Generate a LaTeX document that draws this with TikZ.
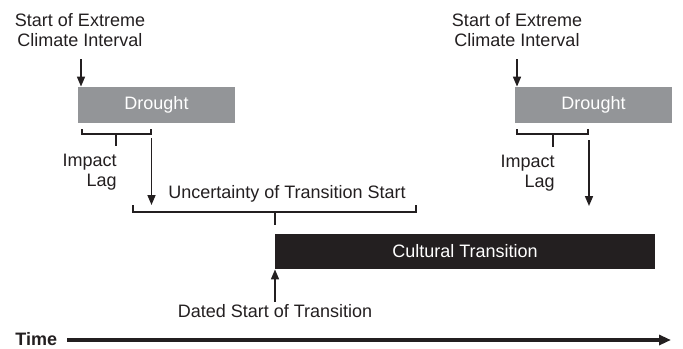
\documentclass[tikz,border=0pt]{standalone}
\usepackage{fontspec}
\setmainfont{Liberation Sans}
\usetikzlibrary{arrows.meta}
\definecolor{droughtgray}{RGB}{147,149,152}
\definecolor{culturalblack}{RGB}{35,31,32}
\begin{document}
\begin{tikzpicture}
	[x=0.5pt,y=-0.5pt,font=\fontsize{9}{10}\selectfont,culturalblack,
	label/.style={inner sep=0pt,align=center},
	box/.style={fill=droughtgray,text=white,inner sep=0pt,minimum width=78.5pt,minimum height=18pt},
	bracket/.style={line width=0.8pt,line join=miter},
	>={Triangle[length=5pt,width=4pt]}]
	\useasboundingbox (0,0) rectangle (683,348);
	% climate intervals
	\node[label,anchor=north,name=start1]at(80,13){Start of Extreme\\Climate Interval};
	\node[label,anchor=north,name=start2]at(517,13){Start of Extreme\\Climate Interval};
	\node[box,name=drought1]at(156.5,105){Drought};
	\node[box,name=drought2]at(593.5,105){Drought};
	\coordinate (s1) at (81,59);
	\coordinate (s2) at (517,59);
	\draw[->,line width=0.8pt](s1) -- (s1 |- drought1.north);
	\draw[->,line width=0.8pt](s2) -- (s2 |- drought2.north);
	% impact lags
	\draw[bracket](82,129) -- (82,134) -- (151,134) -- (151,129);
	\draw[bracket](116,134) -- (116,146);
	\draw[bracket](517,129) -- (517,134) -- (588,134) -- (588,129);
	\draw[bracket](553,134) -- (553,147);
	\node[label,align=right,anchor=north east,name=lag1]at(117,154){Impact\\Lag};
	\node[label,align=right,anchor=north east,name=lag2]at(555,155){Impact\\Lag};
	\coordinate (i1) at (151.5,138);
	\coordinate (j1) at (151.5,205);
	\coordinate (i2) at (589,140);
	\coordinate (j2) at (589,206);
	\draw[->,line width=0.8pt](i1) -- (j1);
	\draw[->,line width=0.8pt](i2) -- (j2);
	% transition
	\node[label,anchor=base,name=uncert]at(287,198){Uncertainty of Transition Start};
	\draw[bracket](133,205) -- (133,212) -- (416,212) -- (416,205);
	\draw[bracket](275,212) -- (275,225);
	\node[box,fill=culturalblack,minimum width=190pt,minimum height=17.5pt,name=cultural]at(465,251.5){Cultural Transition};
	\node[label,anchor=base,name=dated]at(275,317){Dated Start of Transition};
	\coordinate (d0) at (275,302);
	\draw[->,line width=0.8pt](d0) -- (d0 |- cultural.south);
	% time axis
	\node[label,anchor=base west,font=\fontsize{9}{10}\selectfont\bfseries,name=time]at(15,345.5){Time};
	\coordinate (t0) at (67,340);
	\coordinate (t1) at (671,340);
	\draw[-{Triangle[length=6pt,width=5pt]},line width=1.6pt](t0) -- (t1);
\end{tikzpicture}
\end{document}
